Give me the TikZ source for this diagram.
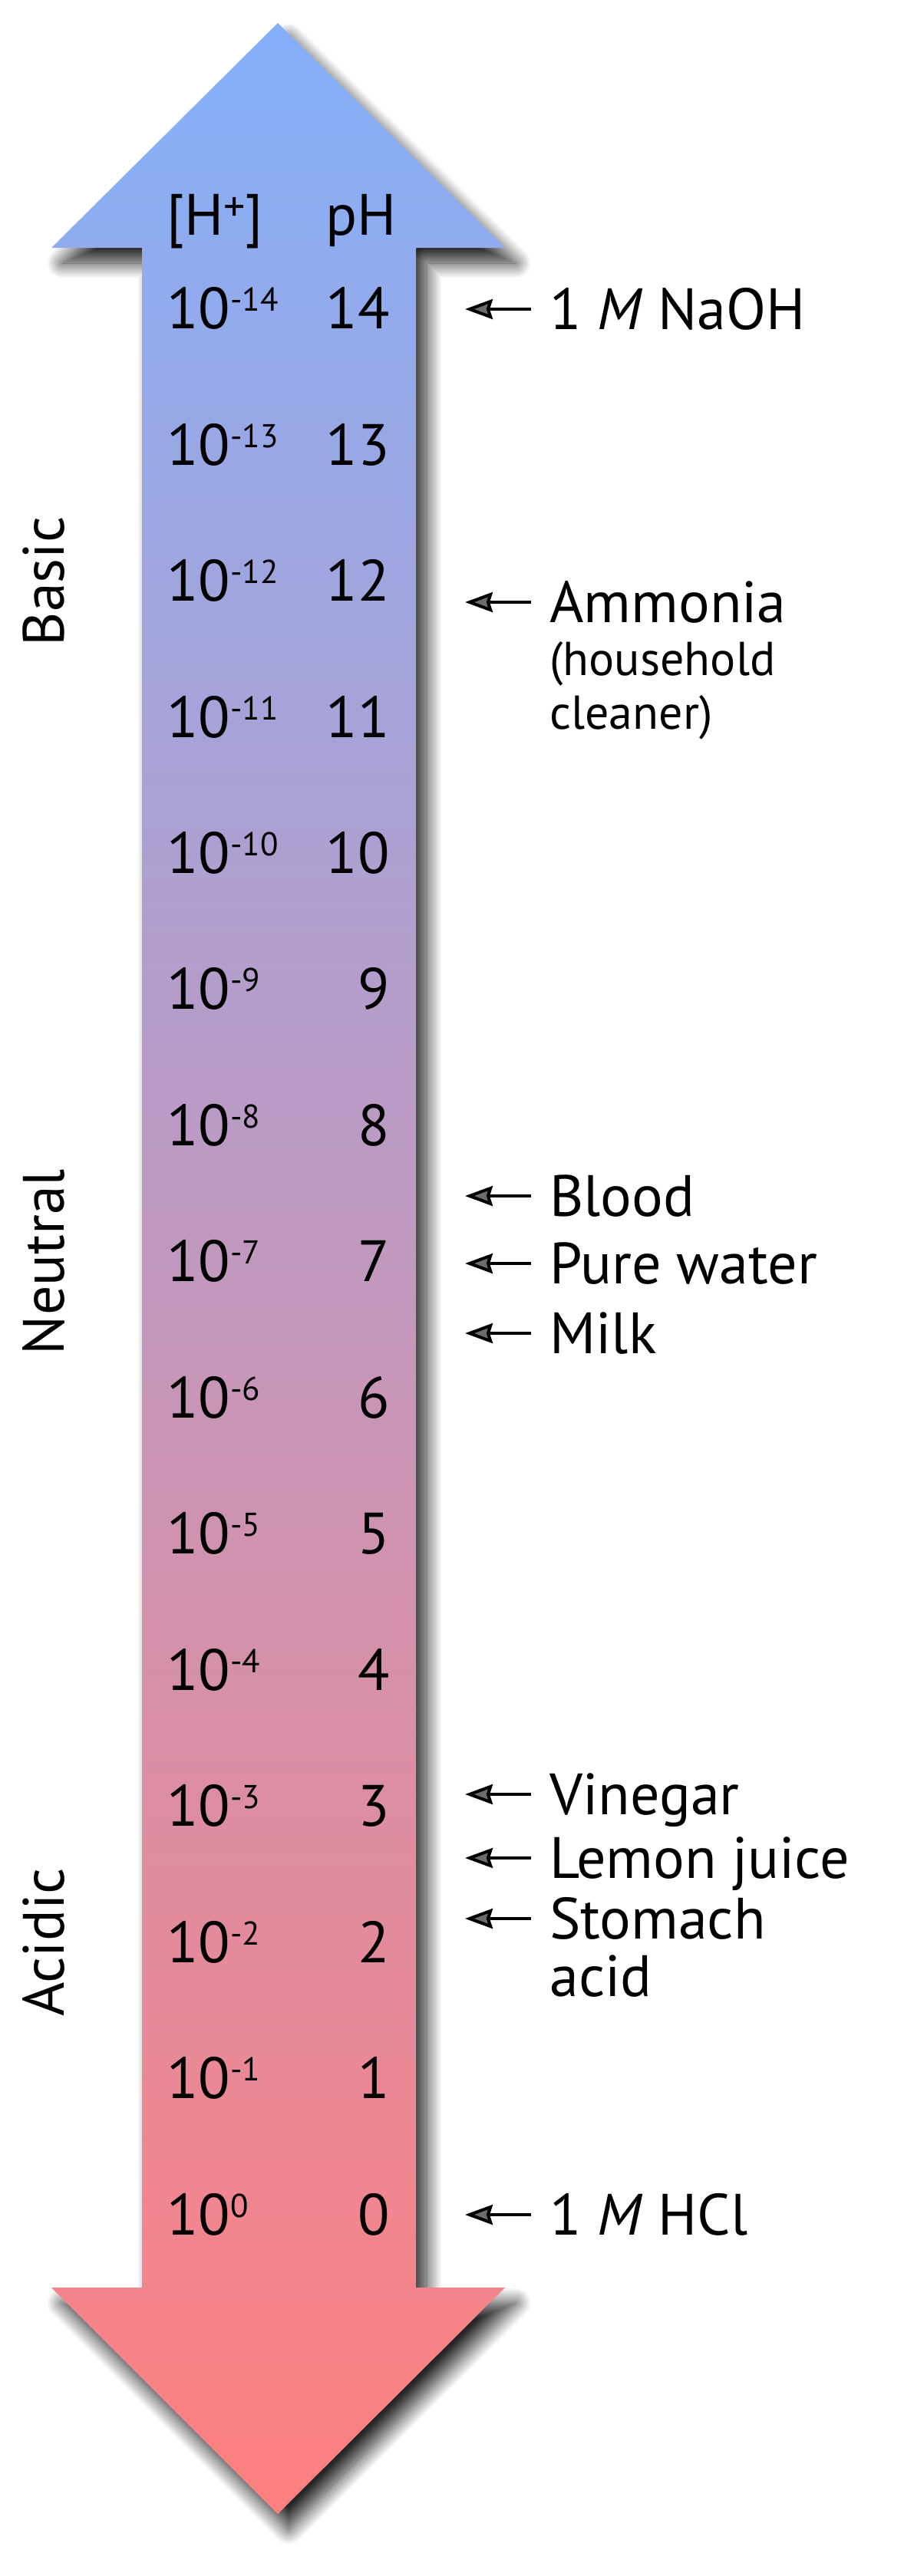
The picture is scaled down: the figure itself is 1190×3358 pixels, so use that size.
\documentclass[tikz,border=0pt]{standalone}
\usepackage{fontspec}
\setmainfont{PT Sans}
\usetikzlibrary{arrows.meta,shadows.blur,positioning}
\definecolor{basecolor}{RGB}{132,176,250}
\definecolor{acidcolor}{RGB}{255,128,128}
\newcommand{\expo}[1]{\raisebox{11.5pt}{\fontsize{21.5}{22}\selectfont #1}}

\begin{document}
\begin{tikzpicture}[
x=0.5pt,y=-0.5pt,
every node/.style={inner sep=0pt,font=\fontsize{38}{46}\selectfont},
scale box/.style={top color=basecolor,bottom color=acidcolor,
	blur shadow={shadow xshift=7pt,shadow yshift=-10pt,shadow blur radius=10pt,
	shadow blur steps=25,shadow opacity=85}},
side/.style={rotate=90},
note/.style={anchor=west,text height=26.6pt,text depth=0pt},
subnote/.style={anchor=base west,align=left,font=\fontsize{31}{35}\selectfont},
ptr/.style={-{Stealth[length=18pt,width=13pt,inset=2pt]},line width=2pt}
]
\useasboundingbox (0,0) rectangle (1190,3358);
\shade[scale box] (362,30) -- (658,323) -- (542,323) -- (542,2982) -- (658,2982)
	-- (362,3277) -- (67,2982) -- (185,2982) -- (185,323) -- (67,323) -- cycle;

\node[anchor=base west] (hconc) at (217,306) {[H\raisebox{9pt}{\fontsize{28}{28}\selectfont +}]};
\node[anchor=base west] (phhead) at (424,306) {pH};
\foreach \p in {0,...,14}{
	\pgfmathtruncatemacro{\e}{-\p}
	\node[anchor=base west] (conc\p) at (217,{2913-177.45*\p}) {10\expo{\e}};
	\node[anchor=base east] (ph\p) at (508,{2913-177.45*\p}) {\p};
}

\node[side] (basic) at (57,758) {Basic};
\node[side] (neutral) at (57,1645) {Neutral};
\node[side] (acidic) at (57,2532) {Acidic};

\node[note] (naoh) at (716,403) {1 \textit{M} NaOH};
\node[note] (ammonia) at (716,785) {Ammonia};
\node[subnote] (cleaner) at (716,950) {(household\\cleaner)};
\node[note] (blood) at (716,1559) {Blood};
\node[note] (water) at (716,1647) {Pure water};
\node[note] (milk) at (716,1738) {Milk};
\node[note] (vinegar) at (716,2339) {Vinegar};
\node[note] (lemon) at (716,2422) {Lemon juice};
\node[note] (stomach) at (716,2501) {Stomach};
\node[anchor=base west] (acid) at (716,2602) {acid};
\node[note] (hcl) at (716,2887) {1 \textit{M} HCl};

\foreach \n in {naoh,ammonia,blood,water,milk,vinegar,lemon,stomach,hcl}
	\draw[ptr] ([xshift=-12pt]\n.west) -- ([xshift=-55pt]\n.west);
\end{tikzpicture}
\end{document}
